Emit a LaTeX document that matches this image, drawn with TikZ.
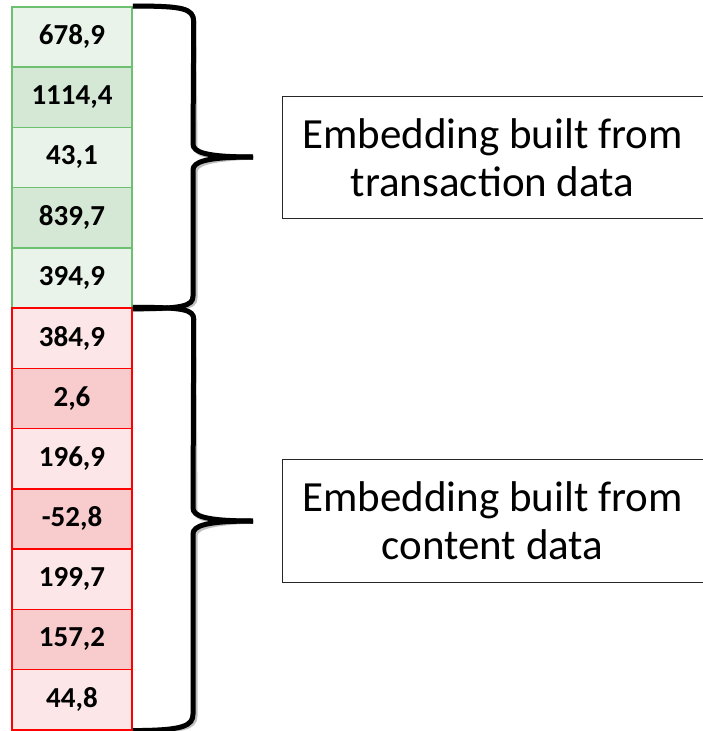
\documentclass[tikz,border=0pt]{standalone}
\usepackage{fontspec}
\setmainfont{Carlito}
\definecolor{gline}{HTML}{6CC070}
\definecolor{glight}{HTML}{E9F3EA}
\definecolor{gdark}{HTML}{D4E8D5}
\definecolor{rline}{HTML}{FF0000}
\definecolor{rlight}{HTML}{FCE6E7}
\definecolor{rdark}{HTML}{F8CBCD}
\begin{document}
\begin{tikzpicture}[x=1pt,y=-1pt,
  cell/.style={minimum width=120pt,minimum height=60.25pt,inner sep=0pt,
    line width=1.5pt,font=\fontsize{29}{34}\selectfont\bfseries},
  gcell/.style={cell,draw=gline},
  rcell/.style={cell,draw=rline},
  label/.style={minimum width=419pt,minimum height=122pt,align=center,
    inner sep=0pt,font=\fontsize{43}{48}\selectfont},
  frame/.style={draw=black!85,line width=1.2pt},
  brace/.style={line width=5pt,line cap=butt,line join=round},
  braceshadow/.style={line width=5pt,draw=black!25}]
\useasboundingbox (0,0) rectangle (703,731);
\clip (0,0) rectangle (703,731);

% transaction part of the embedding vector
\foreach \v/\f [count=\i] in {{678,9}/glight,{1114,4}/gdark,{43,1}/glight,{839,7}/gdark,{394,9}/glight}
  \node[gcell,fill=\f] (g\i) at (72,{6.8+60.25*(\i-0.5)}) {\v};
% content part of the embedding vector
\foreach \v/\f [count=\i] in {{384,9}/rlight,{2,6}/rdark,{196,9}/rlight,{-52,8}/rdark,{199,7}/rlight,{157,2}/rdark,{44,8}/rlight}
  \node[rcell,fill=\f] (r\i) at (72,{6.8+60.25*(\i+4.5)}) {\v};
% redraw the shared border in red
\draw[rline,line width=1.5pt] (r1.north west) -- (r1.north east);

% description boxes (frames run on past the right edge)
\node[label] (t) at (492.5,157.5) {Embedding built from\\transaction data};
\node[label] (c) at (492.5,521) {Embedding built from\\content data};
\draw[frame] ([xshift=30pt]t.north east) -- (t.north west) -- (t.south west)
  -- ([xshift=30pt]t.south east);
\draw[frame] ([xshift=30pt]c.north east) -- (c.north west) -- (c.south west)
  -- ([xshift=30pt]c.south east);

% braces
\coordinate (ta) at (g1.north east);
\coordinate (tb) at (g5.south east);
\coordinate (tt) at (253,157);
\coordinate (ca) at (r1.north east);
\coordinate (cb) at (r7.south east);
\coordinate (ct) at (253,521);

\begin{scope}[shift={(2,2)}]
\draw[braceshadow] (ta) .. controls +(50,0) and +(0,-14) .. ++(61,16)
  -- (193,144) .. controls (193,152) and (205,157) .. (tt);
\draw[braceshadow] (ca) .. controls +(50,0) and +(0,-10) .. ++(61,12)
  -- (193,508) .. controls (193,516) and (205,521) .. (ct);
\draw[braceshadow] (tt) .. controls (205,157) and (193,162) .. (193,170)
  -- (193,296) .. controls +(0,10) and +(50,0) .. (tb);
\draw[braceshadow] (ct) .. controls (205,521) and (193,526) .. (193,534)
  -- (193,714) .. controls +(0,12) and +(50,0) .. (cb);
\end{scope}

\draw[brace] (ta) .. controls +(50,0) and +(0,-14) .. ++(61,16)
  -- (193,144) .. controls (193,152) and (205,157) .. (tt);
\draw[brace] (tt) .. controls (205,157) and (193,162) .. (193,170)
  -- (193,296) .. controls +(0,10) and +(50,0) .. (tb);
\draw[brace] (ca) .. controls +(50,0) and +(0,-10) .. ++(61,12)
  -- (193,508) .. controls (193,516) and (205,521) .. (ct);
\draw[brace] (ct) .. controls (205,521) and (193,526) .. (193,534)
  -- (193,714) .. controls +(0,12) and +(50,0) .. (cb);
\end{tikzpicture}
\end{document}
